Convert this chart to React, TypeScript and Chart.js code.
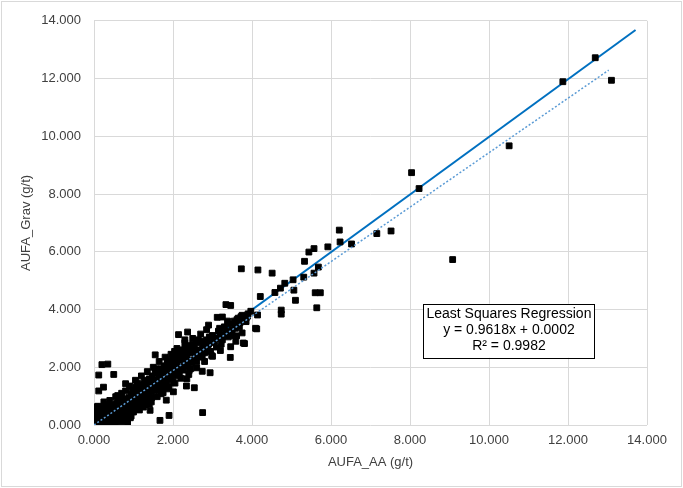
import { useEffect, useRef } from "react"
import { Chart, registerables } from "chart.js"

Chart.register(...registerables)

// AUFA_AA vs AUFA_Grav (g/t)
const outlierSamples: [number, number][] = [
  [12.69, 12.72], [11.87, 11.89], [13.1, 11.94], [10.51, 9.67], [8.04, 8.74], [8.23, 8.19],
  [9.08, 5.73], [6.21, 6.75], [6.23, 6.34], [6.52, 6.27], [5.92, 6.17], [7.16, 6.63],
  [7.52, 6.72], [5.57, 6.11], [5.44, 5.99], [5.33, 5.67], [5.68, 5.47], [5.57, 5.26],
  [3.73, 5.41], [4.15, 5.37], [4.51, 5.26], [4.83, 4.91], [5.04, 5.03], [4.72, 4.74],
  [4.58, 4.59], [5.06, 4.67], [5.31, 5.12], [5.6, 4.58], [5.73, 4.58], [5.1, 4.32],
  [5.64, 4.06], [4.21, 4.45], [4.74, 3.98], [4.74, 3.84], [4.14, 3.81], [4.12, 3.33],
  [3.97, 3.94], [3.34, 4.17], [3.46, 4.14], [3.89, 3.77], [3.85, 3.58], [3.61, 3.09],
  [3.81, 2.82], [3.46, 2.71], [3.45, 2.34], [3.12, 3.73], [3.25, 3.74], [2.9, 3.46],
  [2.37, 3.22], [2.14, 3.13], [2.75, 0.43], [2.94, 1.81], [2.74, 1.86], [2.41, 1.89],
  [2.35, 1.6], [2.54, 1.29], [2.34, 1.35], [2.01, 1.15], [1.83, 0.86], [1.9, 0.33],
  [1.67, 0.16], [1.42, 0.51], [1.55, 2.43], [0.8, 1.43], [0.5, 1.75], [0.12, 1.73],
  [0.2, 2.09], [0.35, 2.11], [0.12, 1.18], [0.24, 1.31], [0.06, 0.63], [0.85, 0.06],
  [0.94, 0.31], [3.75, 3.19], [3.59, 2.9], [3.78, 2.84], [4.09, 3.35],
]

const clusterSamples: [number, number][] = [
  [0.05, 0.1], [0.08, 0.25], [0.1, 0.05], [0.12, 0.4], [0.15, 0.18], [0.18, 0.02],
  [0.2, 0.3], [0.22, 0.55], [0.25, 0.12], [0.28, 0.35], [0.3, 0.05], [0.32, 0.48],
  [0.35, 0.22], [0.38, 0.6], [0.4, 0.3], [0.42, 0.1], [0.45, 0.5], [0.48, 0.38],
  [0.5, 0.7], [0.52, 0.25], [0.55, 0.55], [0.58, 0.42], [0.6, 0.15], [0.62, 0.8],
  [0.65, 0.6], [0.68, 0.45], [0.7, 0.3], [0.72, 0.75], [0.75, 0.62], [0.78, 0.9],
  [0.8, 0.5], [0.82, 0.7], [0.85, 0.2], [0.88, 0.95], [0.9, 0.78], [0.92, 0.6],
  [0.95, 1.05], [0.98, 0.85], [1.0, 0.7], [1.02, 1.15], [1.05, 0.95], [1.08, 0.55],
  [1.1, 1.2], [1.12, 1.0], [1.15, 0.8], [1.18, 1.3], [1.2, 1.1], [1.22, 0.9],
  [1.25, 1.4], [1.28, 1.2], [1.3, 0.95], [1.32, 1.5], [1.35, 1.25], [1.38, 1.05],
  [1.4, 1.6], [1.42, 1.35], [1.45, 1.15], [1.48, 1.7], [1.5, 1.45], [1.52, 1.2],
  [1.55, 1.8], [1.58, 1.55], [1.6, 1.3], [1.62, 1.9], [1.65, 1.65], [1.68, 1.4],
  [1.7, 1.95], [1.72, 1.75], [1.75, 1.5], [1.78, 2.05], [1.8, 1.85], [1.82, 1.6],
  [1.85, 2.1], [1.88, 1.9], [1.9, 1.7], [1.92, 2.2], [1.95, 2.0], [1.98, 1.75],
  [2.0, 2.3], [2.02, 2.05], [2.05, 1.85], [2.08, 2.4], [2.1, 2.15], [2.12, 1.95],
  [2.15, 2.5], [2.18, 2.25], [2.2, 2.0], [2.22, 2.6], [2.25, 2.3], [2.28, 2.1],
  [2.3, 2.65], [2.35, 2.4], [2.38, 2.2], [2.4, 2.7], [2.45, 2.5], [2.48, 2.25],
  [2.5, 2.8], [2.55, 2.55], [2.58, 2.35], [2.6, 2.85], [2.65, 2.6], [2.68, 2.4],
  [2.7, 2.9], [2.75, 2.7], [2.8, 2.5], [2.85, 2.95], [2.9, 2.8], [2.95, 2.55],
  [3.0, 3.1], [3.05, 2.9], [3.1, 2.7], [3.15, 3.25], [3.2, 3.05], [3.25, 2.95],
  [3.3, 3.4], [3.35, 3.2], [3.4, 3.05], [3.45, 3.5], [3.5, 3.3], [3.55, 3.6],
  [3.6, 3.45], [3.65, 3.7], [3.7, 3.55], [3.75, 3.8], [3.8, 3.65], [3.9, 3.85],
  [0.03, 0.3], [0.06, 0.5], [0.1, 0.65], [0.14, 0.28], [0.2, 0.12], [0.26, 0.42],
  [0.33, 0.15], [0.36, 0.7], [0.44, 0.2], [0.47, 0.62], [0.54, 0.35], [0.57, 0.75],
  [0.63, 0.28], [0.66, 0.9], [0.74, 0.4], [0.77, 0.58], [0.84, 0.85], [0.86, 0.4],
  [0.94, 0.5], [0.97, 1.2], [1.04, 0.75], [1.06, 1.3], [1.14, 1.1], [1.16, 0.65],
  [1.24, 1.0], [1.27, 1.55], [1.34, 0.85], [1.36, 1.45], [1.44, 1.5], [1.46, 0.95],
  [1.54, 1.35], [1.56, 1.95], [1.64, 1.2], [1.66, 1.75], [1.74, 1.85], [1.76, 1.3],
  [1.84, 1.45], [1.86, 2.25], [1.94, 1.6], [1.96, 2.1], [2.04, 2.55], [2.06, 1.7],
  [2.14, 2.35], [2.16, 1.8], [2.24, 2.45], [2.26, 1.9], [2.34, 2.55], [2.36, 2.05],
  [2.44, 2.75], [2.46, 2.15], [2.54, 2.65], [2.56, 2.3], [2.64, 2.95], [2.66, 2.45],
  [2.74, 2.35], [2.78, 2.85], [2.88, 2.65], [2.92, 3.05], [2.98, 2.4], [3.02, 2.85],
  [3.12, 3.0], [3.18, 3.35], [3.22, 2.8], [3.28, 3.15], [3.38, 3.6], [3.42, 3.25],
  [3.48, 3.1], [3.58, 3.35], [3.62, 3.65], [3.68, 3.4], [3.72, 3.75], [3.85, 3.7],
  [0.15, 0.6], [0.25, 0.8], [0.4, 0.85], [0.55, 0.98], [0.7, 1.1], [0.9, 1.35],
  [1.05, 1.55], [1.2, 1.7], [1.35, 1.85], [1.5, 2.0], [1.65, 2.2], [1.8, 2.35],
  [1.95, 2.45], [2.1, 2.65], [2.3, 2.85], [2.5, 3.0], [2.7, 3.15], [2.85, 3.3],
  [0.4, 0.02], [0.55, 0.08], [0.7, 0.12], [0.92, 0.25], [1.0, 0.45], [1.15, 0.52],
  [1.3, 0.7], [1.45, 0.8], [1.6, 0.98], [1.75, 1.12], [1.9, 1.3], [2.05, 1.45],
  [2.2, 1.62], [2.4, 1.75], [2.6, 1.98], [2.8, 2.2], [3.0, 2.38], [3.2, 2.58],
  [0.3, 0.62], [0.6, 1.02], [0.8, 1.18], [1.1, 1.45], [1.25, 0.62], [1.4, 0.72],
  [1.7, 1.08], [1.85, 1.25], [2.0, 1.5], [2.3, 2.95], [2.45, 1.95], [2.6, 2.2],
]

// 1:1 line and the fitted (dotted) trendline, end points as drawn
const oneToOneAA = [0, 13.71]
const oneToOneGrav = [0, 13.68]
const trendAA = [0, 13.03]
const trendGrav = [0.0002, 12.29]

const regressionLines = ["Least Squares Regression", "y = 0.9618x + 0.0002", "R² = 0.9982"]

const FONT = "'Liberation Sans', Arial, sans-serif"

const pageFrame = {
  id: "pageFrame",
  beforeDraw(chart: Chart) {
    const { ctx, width, height } = chart
    ctx.save()
    ctx.fillStyle = "#ffffff"
    ctx.fillRect(0, 0, width, height)
    ctx.strokeStyle = "#d9d9d9"
    ctx.lineWidth = 1
    ctx.strokeRect(1.5, 1.5, width - 3, height - 3)
    ctx.restore()
  },
}

const regressionBox = {
  id: "regressionBox",
  afterDatasetsDraw(chart: Chart) {
    const { ctx } = chart
    const x = chart.scales.x.getPixelForValue(8.34)
    const y = chart.scales.y.getPixelForValue(4.2)
    const w = 171
    const h = 54
    ctx.save()
    ctx.fillStyle = "#ffffff"
    ctx.fillRect(x, y, w, h)
    ctx.strokeStyle = "#000000"
    ctx.lineWidth = 1
    ctx.strokeRect(Math.round(x) + 0.5, Math.round(y) + 0.5, w, h)
    ctx.fillStyle = "#000000"
    ctx.font = `14px ${FONT}`
    ctx.textAlign = "center"
    ctx.textBaseline = "middle"
    regressionLines.forEach((line, i) => {
      ctx.fillText(line, x + w / 2, y + 10 + i * 16)
    })
    ctx.restore()
  },
}

function ScatterChart() {
  const chartRef = useRef<HTMLCanvasElement>(null)
  const chartInstance = useRef<Chart | null>(null)

  useEffect(() => {
    if (!chartRef.current) return
    if (chartInstance.current) chartInstance.current.destroy()

    const samples = [...clusterSamples, ...outlierSamples].map(([x, y]) => ({ x, y }))

    const ctx = chartRef.current.getContext("2d")
    if (!ctx) return

    chartInstance.current = new Chart(ctx, {
      type: "scatter",
      data: {
        datasets: [
          {
            label: "Linear (trend)",
            data: trendAA.map((x, i) => ({ x, y: trendGrav[i] })),
            showLine: true,
            borderColor: "#5b9bd5",
            borderWidth: 1.5,
            borderDash: [2, 2],
            pointRadius: 0,
          },
          {
            label: "Samples",
            data: samples,
            pointStyle: "rect",
            pointRadius: 4.1,
            backgroundColor: "#000000",
            borderColor: "#000000",
            borderWidth: 1,
          },
          {
            label: "1:1",
            data: oneToOneAA.map((x, i) => ({ x, y: oneToOneGrav[i] })),
            showLine: true,
            borderColor: "#0070c0",
            borderWidth: 2,
            pointRadius: 0,
          },
        ],
      },
      options: {
        animation: false,
        responsive: false,
        layout: { padding: { left: 0, right: 36, top: 15, bottom: 0 } },
        plugins: {
          legend: { display: false },
          tooltip: { enabled: false },
        },
        scales: {
          x: {
            type: "linear",
            min: 0,
            max: 14,
            ticks: {
              stepSize: 2,
              padding: 8,
              color: "#404040",
              font: { family: FONT, size: 13 },
              callback: (v) => Number(v).toFixed(3),
            },
            grid: { color: "#d9d9d9", drawTicks: false },
            border: { display: false },
            title: {
              display: true,
              text: "AUFA_AA (g/t)",
              color: "#404040",
              font: { family: FONT, size: 13 },
              padding: { top: 0, bottom: 18 },
            },
            afterFit: (scale) => {
              scale.height = 63
            },
          },
          y: {
            type: "linear",
            min: 0,
            max: 14,
            ticks: {
              stepSize: 2,
              padding: 13,
              color: "#404040",
              font: { family: FONT, size: 13 },
              callback: (v) => Number(v).toFixed(3),
            },
            grid: { color: "#d9d9d9", drawTicks: false },
            border: { display: false },
            title: {
              display: true,
              text: "AUFA_Grav (g/t)",
              color: "#404040",
              font: { family: FONT, size: 13 },
              padding: { top: 19, bottom: 0 },
            },
            afterFit: (scale) => {
              scale.width = 94
            },
          },
        },
      },
      plugins: [pageFrame, regressionBox],
    })

    return () => {
      if (chartInstance.current) {
        chartInstance.current.destroy()
        chartInstance.current = null
      }
    }
  }, [])

  return <canvas ref={chartRef} width={683} height={488} style={{ display: "block" }} />
}

export default function App() {
  useEffect(() => {
    document.body.style.margin = "0"
  }, [])
  return (
    <div style={{ width: 683, height: 488 }}>
      <ScatterChart />
    </div>
  )
}
